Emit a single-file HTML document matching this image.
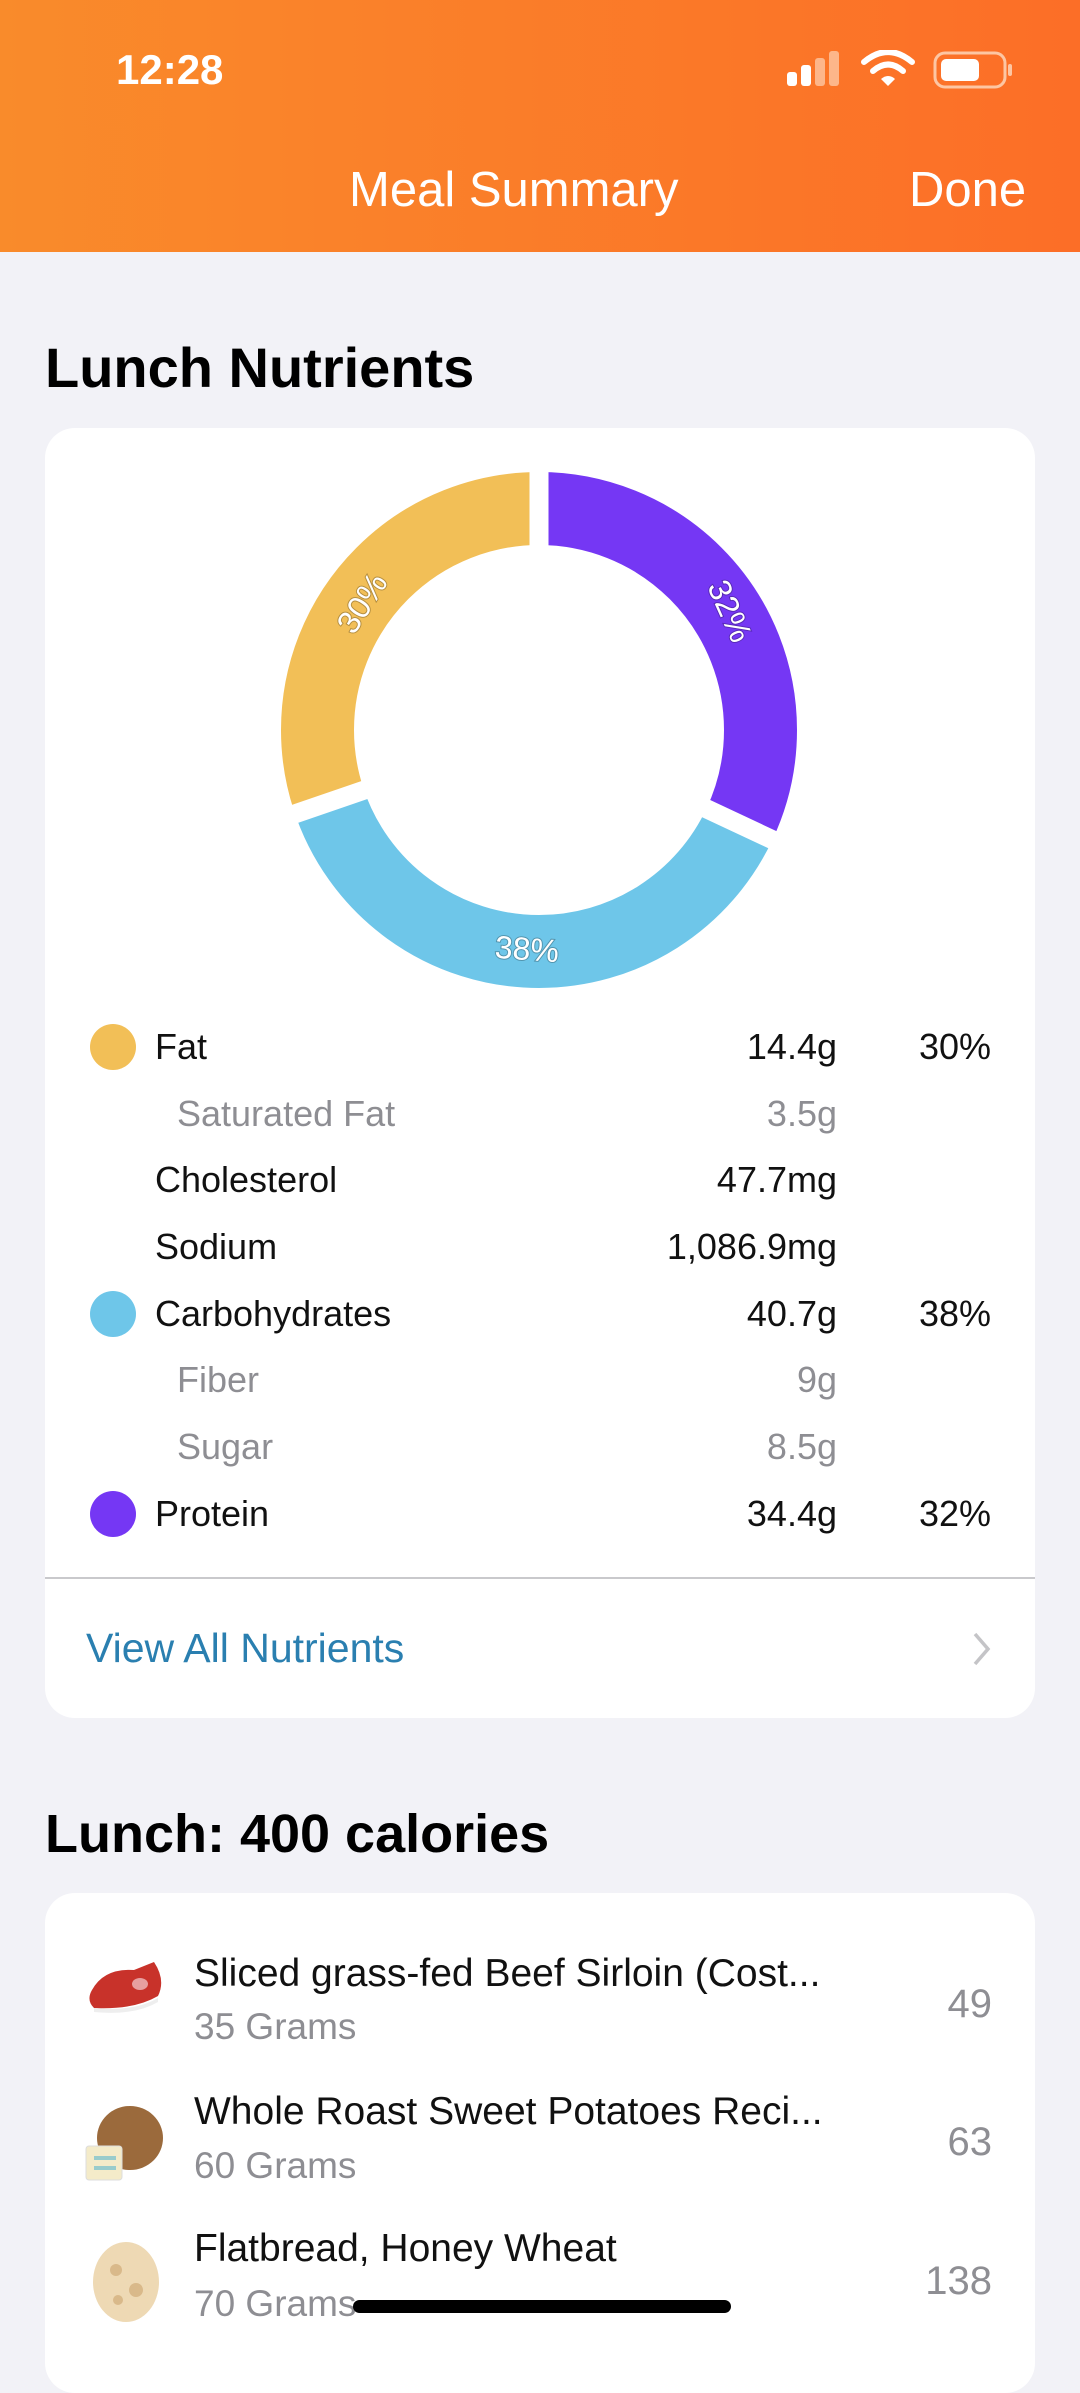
<!DOCTYPE html>
<html><head><meta charset="utf-8"><style>
*{margin:0;padding:0;box-sizing:border-box}
body{width:1080px;height:2337px;background:#F2F2F7;font-family:"Liberation Sans",sans-serif;position:relative;overflow:hidden}
.a{position:absolute;white-space:nowrap}
.hdr{position:absolute;left:0;top:0;width:1080px;height:252px;background:linear-gradient(90deg,#F98B2B,#FC6E27)}
.card{position:absolute;left:45px;width:990px;background:#fff;border-radius:30px}
.row{position:absolute;height:50px;line-height:50px;font-size:36px;color:#111}
.g{color:#8e8e93}
.dot{position:absolute;left:90px;width:46px;height:46px;border-radius:50%}
</style></head><body>
<div class="hdr"></div>
<div class="a" style="left:116px;top:44px;font-size:42px;color:#fff;font-weight:bold;line-height:52px">12:28</div>
<svg class="a" style="left:785px;top:50px" width="230" height="42">
 <rect x="2" y="22" width="10" height="14" rx="3" fill="#fff"/>
 <rect x="16" y="15" width="10" height="21" rx="3" fill="#fff"/>
 <rect x="30" y="8" width="10" height="28" rx="3" fill="#fdb68a"/>
 <rect x="44" y="1" width="10" height="35" rx="3" fill="#fdb68a"/>
 <path d="M79 12 Q103 -8 127 12" stroke="#fff" stroke-width="6" fill="none" stroke-linecap="round"/>
 <path d="M88 21 Q103 8 118 21" stroke="#fff" stroke-width="6" fill="none" stroke-linecap="round"/>
 <path d="M96 29 L103 36 L110 29 Q103 23 96 29Z" fill="#fff"/>
 <rect x="150" y="3" width="70" height="34" rx="10" fill="none" stroke="#fdc6a3" stroke-width="3"/>
 <rect x="156" y="9" width="38" height="22" rx="5" fill="#fff"/>
 <rect x="223" y="14" width="4" height="12" rx="2" fill="#fdc6a3"/>
</svg>
<div class="a" style="left:349px;top:162px;font-size:49px;color:#fff;line-height:56px">Meal Summary</div>
<div class="a" style="left:909px;top:162px;font-size:49px;color:#fff;line-height:56px">Done</div>

<div class="a" style="left:45px;top:336px;font-size:56px;font-weight:bold;color:#000;line-height:64px">Lunch Nutrients</div>
<div class="card" style="top:428px;height:1290px"></div>

<svg class="a" style="left:0;top:0" width="1080" height="1100">
 <g transform="rotate(-90 539 730)" fill="none" stroke-width="73">
  <circle cx="539" cy="730" r="221.5" stroke="#7537F4" stroke-dasharray="445.3 2000"/>
  <circle cx="539" cy="730" r="221.5" stroke="#6EC6E9" stroke-dasharray="0 445.3 528.8 2000"/>
  <circle cx="539" cy="730" r="221.5" stroke="#F2BF57" stroke-dasharray="0 974.1 420 2000"/>
 </g>
 <g stroke="#fff" stroke-width="19">
  <line x1="539" y1="580" x2="539" y2="440"/>
  <line x1="674.7" y1="793.9" x2="820" y2="862"/>
  <line x1="397.2" y1="778.8" x2="245" y2="831"/>
 </g>
 <g fill="#fff" font-size="32" font-family="Liberation Sans" text-anchor="middle" style="paint-order:stroke" stroke="rgba(0,0,0,0.25)" stroke-width="2">
  <text transform="translate(730,611) rotate(66)" dy="11">32%</text>
  <text transform="translate(527,949) rotate(4)" dy="11">38%</text>
  <text transform="translate(362,603) rotate(-57)" dy="11">30%</text>
 </g>
</svg>

<div class="dot" style="top:1024px;background:#F2BF57"></div>
<div class="dot" style="top:1291px;background:#6EC6E9"></div>
<div class="dot" style="top:1491px;background:#7537F4"></div>

<div class="row" style="left:155px;top:1022px">Fat</div>
<div class="row g" style="left:177px;top:1089px">Saturated Fat</div>
<div class="row" style="left:155px;top:1155px">Cholesterol</div>
<div class="row" style="left:155px;top:1222px">Sodium</div>
<div class="row" style="left:155px;top:1289px">Carbohydrates</div>
<div class="row g" style="left:177px;top:1355px">Fiber</div>
<div class="row g" style="left:177px;top:1422px">Sugar</div>
<div class="row" style="left:155px;top:1489px">Protein</div>

<div class="row" style="right:243px;top:1022px">14.4g</div>
<div class="row g" style="right:243px;top:1089px">3.5g</div>
<div class="row" style="right:243px;top:1155px">47.7mg</div>
<div class="row" style="right:243px;top:1222px">1,086.9mg</div>
<div class="row" style="right:243px;top:1289px">40.7g</div>
<div class="row g" style="right:243px;top:1355px">9g</div>
<div class="row g" style="right:243px;top:1422px">8.5g</div>
<div class="row" style="right:243px;top:1489px">34.4g</div>

<div class="row" style="right:89px;top:1022px">30%</div>
<div class="row" style="right:89px;top:1289px">38%</div>
<div class="row" style="right:89px;top:1489px">32%</div>

<div class="a" style="left:45px;top:1577px;width:990px;height:2px;background:#c9c9cc"></div>
<div class="a" style="left:86px;top:1622px;font-size:41px;color:#2A7FB0;line-height:52px">View All Nutrients</div>
<svg class="a" style="left:970px;top:1630px" width="24" height="38"><path d="M5 4 L18 19 L5 34" stroke="#c4c4c7" stroke-width="3.5" fill="none"/></svg>

<div class="a" style="left:45px;top:1802px;font-size:54px;font-weight:bold;color:#000;line-height:64px">Lunch: 400 calories</div>
<div class="card" style="top:1893px;height:500px"></div>

<svg class="a" style="left:84px;top:1960px" width="84" height="60">
 <path d="M8 30 Q20 8 50 10 L70 2 Q82 20 74 36 Q50 50 10 48 Q2 40 8 30Z" fill="#C8322A"/>
 <ellipse cx="56" cy="24" rx="8" ry="6" fill="#e7a0a0"/>
 <path d="M10 48 Q50 52 74 38 L74 42 Q50 56 10 52Z" fill="#eee"/>
</svg>
<svg class="a" style="left:84px;top:2102px" width="84" height="80">
 <ellipse cx="46" cy="36" rx="33" ry="32" fill="#9B6A3C"/>
 <rect x="2" y="44" width="36" height="34" rx="3" fill="#F4EBC9" stroke="#ddd"/>
 <rect x="10" y="54" width="22" height="4" fill="#9cc"/><rect x="10" y="64" width="22" height="4" fill="#9cc"/>
</svg>
<svg class="a" style="left:88px;top:2240px" width="76" height="84">
 <ellipse cx="38" cy="42" rx="33" ry="40" fill="#EED9B4"/>
 <circle cx="28" cy="30" r="6" fill="#d9b98a"/><circle cx="48" cy="50" r="7" fill="#d9b98a"/><circle cx="30" cy="60" r="5" fill="#d9b98a"/>
</svg>

<div class="row" style="left:194px;top:1949px;font-size:39px">Sliced grass-fed Beef Sirloin (Cost...</div>
<div class="row g" style="left:194px;top:2002px;font-size:37px">35 Grams</div>
<div class="row g" style="right:88px;top:1979px;font-size:40px">49</div>
<div class="row" style="left:194px;top:2087px;font-size:39px">Whole Roast Sweet Potatoes Reci...</div>
<div class="row g" style="left:194px;top:2141px;font-size:37px">60 Grams</div>
<div class="row g" style="right:88px;top:2117px;font-size:40px">63</div>
<div class="row" style="left:194px;top:2224px;font-size:39px">Flatbread, Honey Wheat</div>
<div class="row g" style="left:194px;top:2279px;font-size:37px">70 Grams</div>
<div class="row g" style="right:88px;top:2256px;font-size:40px">138</div>

<div class="a" style="left:353px;top:2300px;width:378px;height:13px;border-radius:7px;background:#000"></div>
</body></html>
